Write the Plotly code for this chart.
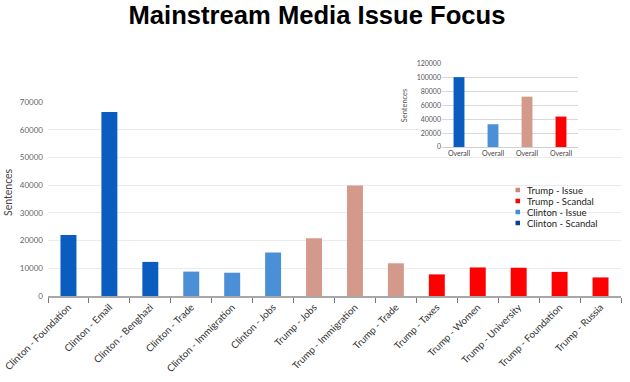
import plotly.graph_objects as go

# ---- data ----
categories = [
    "Clinton - Foundation", "Clinton - Email", "Clinton - Benghazi",
    "Clinton - Trade", "Clinton - Immigration", "Clinton - Jobs",
    "Trump - Jobs", "Trump - Immigration", "Trump - Trade",
    "Trump - Taxes", "Trump - Women", "Trump - University",
    "Trump - Foundation", "Trump - Russia",
]
clinton_scandal_cats = ["Clinton - Foundation", "Clinton - Email", "Clinton - Benghazi"]
clinton_scandal_vals = [22000, 66400, 12300]
clinton_issue_cats = ["Clinton - Trade", "Clinton - Immigration", "Clinton - Jobs"]
clinton_issue_vals = [8800, 8400, 15700]
trump_issue_cats = ["Trump - Jobs", "Trump - Immigration", "Trump - Trade"]
trump_issue_vals = [20800, 39900, 11800]
trump_scandal_cats = ["Trump - Taxes", "Trump - Women", "Trump - University",
                      "Trump - Foundation", "Trump - Russia"]
trump_scandal_vals = [7800, 10300, 10200, 8700, 6700]

inset_labels = ["Overall", "Overall", "Overall", "Overall"]
inset_positions = [0, 1, 2, 3]
inset_vals = [101000, 32900, 72800, 44000]

series_names = ["Clinton - Scandal", "Clinton - Issue", "Trump - Issue", "Trump - Scandal"]
legend_order = ["Trump - Issue", "Trump - Scandal", "Clinton - Issue", "Clinton - Scandal"]
colors = {
    "Clinton - Scandal": "#0b5cbf",
    "Clinton - Issue": "#4b8fd6",
    "Trump - Issue": "#d39a8c",
    "Trump - Scandal": "#ff0000",
}
legend_colors = {
    "Clinton - Scandal": "#0b3f9c",
    "Clinton - Issue": "#3a8ee0",
    "Trump - Issue": "#c98a7c",
    "Trump - Scandal": "#ff0000",
}

FONT = "Lato"

fig = go.Figure()

main = [
    (clinton_scandal_cats, clinton_scandal_vals, "Clinton - Scandal"),
    (clinton_issue_cats, clinton_issue_vals, "Clinton - Issue"),
    (trump_issue_cats, trump_issue_vals, "Trump - Issue"),
    (trump_scandal_cats, trump_scandal_vals, "Trump - Scandal"),
]
for cats, vals, name in main:
    fig.add_trace(go.Bar(
        x=cats, y=vals, name=name, width=0.39,
        marker=dict(color=colors[name], line=dict(width=0)),
        showlegend=False, xaxis="x", yaxis="y",
    ))

fig.add_trace(go.Bar(
    x=inset_positions, y=inset_vals, width=0.32,
    marker=dict(color=[colors[n] for n in series_names], line=dict(width=0)),
    showlegend=False, xaxis="x2", yaxis="y2",
))

W, H = 630, 382
# paper (in pixels): x 48..621, y 40..296
fig.update_layout(
    width=W, height=H,
    margin=dict(l=48, r=W - 621, t=40, b=H - 296),
    paper_bgcolor="white", plot_bgcolor="white",
    barmode="overlay",
    title=dict(text="<b>Mainstream Media Issue Focus</b>",
               font=dict(family="Liberation Sans, Arial", size=25.6, color="black"),
               x=317 / W, xanchor="center", xref="container",
               y=1 - 15.5 / H, yanchor="middle", yref="container"),
    xaxis=dict(
        domain=[0, 1], type="category",
        categoryorder="array", categoryarray=categories,
        range=[-0.5, len(categories) - 0.5],
        tickson="boundaries", ticks="outside", ticklen=5, tickcolor="#777", tickwidth=1,
        showline=True, linecolor="#a8a8a8", linewidth=1.5,
        showgrid=False, tickangle=-45, automargin=False,
        tickfont=dict(family=FONT, size=9.8, color="#333"),
    ),
    yaxis=dict(
        domain=[0, 194 / 256], range=[0, 70000], dtick=10000,
        showgrid=True, gridcolor="#ebebeb", gridwidth=1,
        zeroline=False, showline=False, ticks="", automargin=False,
        tickfont=dict(family=FONT, size=8, color="#666"),
        tickformat="d", ticklabelstandoff=4,
    ),
    xaxis2=dict(
        domain=[(442 - 48) / 573, (578 - 48) / 573], anchor="y2",
        range=[-0.5, 3.5], tickvals=inset_positions, ticktext=inset_labels,
        showgrid=False, ticks="", showline=True, linecolor="#d0d0d0", linewidth=1,
        tickfont=dict(family=FONT, size=7, color="#444"), automargin=False,
    ),
    yaxis2=dict(
        domain=[(296 - 147) / 256, (296 - 64) / 256], anchor="x2",
        range=[0, 120000], dtick=20000,
        showgrid=True, gridcolor="#d9d9d9", gridwidth=1,
        zeroline=False, showline=False, ticks="", automargin=False,
        tickfont=dict(family=FONT, size=7, color="#555"),
        tickformat="d",
        title=dict(text="Sentences", font=dict(family=FONT, size=7.5, color="#555"), standoff=8),
    ),
)

# white panel hiding main gridlines behind the inset (category-index / data coords)
fig.add_shape(type="rect", xref="x", yref="y",
              x0=(392 - 48) / 41 - 0.5, x1=(587 - 48) / 41 - 0.5,
              y0=(296 - 166) / 194 * 70000, y1=72000,
              fillcolor="white", line=dict(width=0), layer="below")

# main y-axis title
fig.add_annotation(text="Sentences", xref="paper", yref="paper",
                   x=(7.5 - 48) / 573, y=(296 - 192.5) / 256,
                   xanchor="center", yanchor="middle", textangle=-90, showarrow=False,
                   font=dict(family=FONT, size=10.5, color="#444"))

# legend (manual)
rows_y = [190, 201, 212, 223]
for name, py in zip(legend_order, rows_y):
    yp = (296 - py) / 256
    fig.add_shape(type="rect", xref="paper", yref="paper",
                  x0=(515.5 - 48) / 573, x1=(520 - 48) / 573,
                  y0=yp - 2.25 / 256, y1=yp + 2.25 / 256,
                  fillcolor=legend_colors[name], line=dict(width=0))
    fig.add_annotation(text=name, xref="paper", yref="paper",
                       x=(525 - 48) / 573, y=yp, xanchor="left", yanchor="middle",
                       showarrow=False, font=dict(family=FONT, size=9.5, color="#222"))

fig.write_html("out.html",
               config={"displayModeBar": False},
               post_script="document.body.style.margin='0';document.body.style.overflow='hidden';")
